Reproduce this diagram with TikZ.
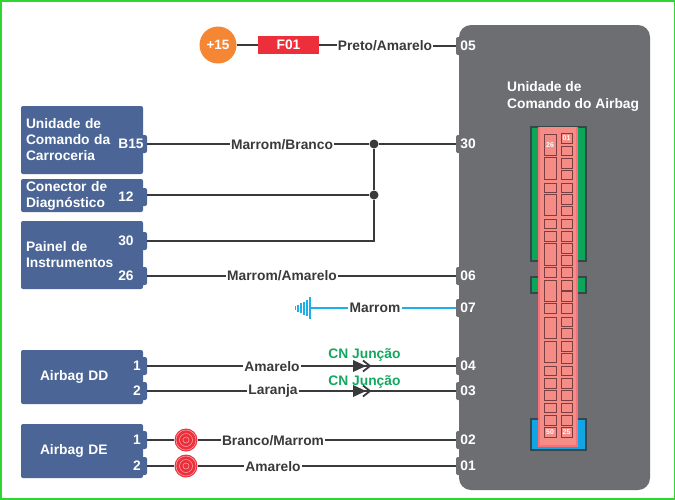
\documentclass[tikz,border=0pt]{standalone}
\usepackage{fontspec}
\setmainfont{Liberation Sans}
\usetikzlibrary{calc}
\definecolor{unitgray}{HTML}{6D6E71}
\definecolor{boxblue}{HTML}{4A6596}
\definecolor{wiredark}{HTML}{3A3A3C}
\definecolor{framegreen}{HTML}{2FD62F}
\definecolor{cngreen}{HTML}{12A860}
\definecolor{fusered}{HTML}{ED2F3B}
\definecolor{plusorange}{HTML}{F58634}
\definecolor{groundblue}{HTML}{1CB0E6}
\definecolor{plugred}{HTML}{F7707A}
\definecolor{cellpink}{HTML}{F58C86}
\definecolor{celldark}{HTML}{7A3F42}
\definecolor{bodygreen}{HTML}{0BA65A}
\definecolor{bodyblue}{HTML}{12A5E3}
\definecolor{bodyline}{HTML}{38454A}
\tikzstyle{txt}=[font=\fontsize{13.8}{16}\selectfont\bfseries]
\tikzstyle{box}=[rectangle,fill=boxblue,rounded corners=2pt,minimum width=122pt,text width=112pt,align=left,text=white,inner sep=0pt,anchor=center,txt]
\tikzstyle{bpin}=[rectangle,fill=boxblue,rounded corners=2pt,minimum height=18pt,inner sep=0pt,text=white,txt]
\tikzstyle{upin}=[rectangle,fill=unitgray,rounded corners=2pt,minimum width=24pt,minimum height=18pt,inner sep=0pt,text=white,txt]
\tikzstyle{wire}=[draw=wiredark,line width=1.6pt]
\tikzstyle{wlabel}=[txt,text=wiredark,inner sep=1pt]
\tikzstyle{cnlabel}=[txt,text=cngreen,inner sep=0pt]
\tikzstyle{jdot}=[circle,fill=wiredark,minimum size=9pt,inner sep=0pt]
\tikzstyle{coil}=[circle,fill=fusered,minimum size=23pt,inner sep=0pt]
\tikzstyle{cell}=[draw=celldark,fill=cellpink,line width=0.8pt]
\tikzstyle{cellnum}=[text=white,inner sep=0pt,font=\fontsize{7}{7}\selectfont\bfseries]
\newcommand{\drawcn}[2]
{
	\draw[wiredark,line width=2.4pt] (#1-12,#2) -- (#1+26,#2);
	\fill[wiredark] (#1-1,#2-6) -- (#1+12,#2) -- (#1-1,#2+6) -- cycle;
	\draw[wiredark,line width=1.8pt] (#1+9,#2-5.5) -- (#1+16,#2) -- (#1+9,#2+5.5);
}
\newcommand{\drawrings}[1]
{
	\foreach \ringr in {3,6.5,10}
		\draw[white!60!fusered,line width=0.5pt] (#1) circle (\ringr);
}
\begin{document}
\begin{tikzpicture}[x=1pt,y=-1pt]
	\useasboundingbox (0,0) rectangle (675,499);
	\fill[white] (0,0) rectangle (675,499);
	\draw[framegreen,line width=2pt] (0.5,0.5) rectangle (674.5,498.5);

	% unidade do airbag
	\fill[unitgray,rounded corners=12pt] (459,25) rectangle (650,490);
	\node[txt,text=white,align=left,anchor=west,inner sep=0pt] (title) at (507,96) {Unidade de\\[1pt]Comando do Airbag};
	\node[upin] (p05) at (468,46) {05};
	\node[upin] (p30) at (468,144) {30};
	\node[upin] (p06) at (468,276) {06};
	\node[upin] (p07) at (468,308) {07};
	\node[upin] (p04) at (468,366) {04};
	\node[upin] (p03) at (468,391) {03};
	\node[upin] (p02) at (468,440) {02};
	\node[upin] (p01) at (468,466) {01};

	% conector
	\draw[bodyline,line width=1.2pt,fill=bodygreen] (531,127) rectangle (586,261);
	\draw[bodyline,line width=1.2pt,fill=bodygreen] (531,277) rectangle (586,293);
	\draw[bodyline,line width=1.2pt,fill=bodyblue] (531,419) rectangle (586,450);
	\fill[plugred] (538,127) rectangle (578,447);
	\fill[cellpink] (540,127) rectangle (576,445);
	\foreach \ya/\yb in {134/155,157/179,183/192,194/215,219/228,231/241,243/265,267/277,280/301,303/313,317/338,341/362,366/375,378/388,390/400,403/412,415/425,427/437}
		\draw[cell] (544,\ya) rectangle (556,\yb);
	\foreach \ya/\yb in {133/143,146/155,158/168,170/179,183/192,194/204,206/215,219/228,231/241,243/253,255/265,267/277,280/290,291/301,303/313,317/326,328/338,341/351,353/363,366/375,378/388,390/400,403/412,415/425,427/437}
		\draw[cell] (561,\ya) rectangle (572,\yb);
	\node[cellnum] (n26) at (550,145) {26};
	\node[cellnum] (n01) at (566.5,138) {01};
	\node[cellnum] (n50) at (550,432) {50};
	\node[cellnum] (n25) at (566.5,432) {25};

	% caixas da esquerda
	\node[box,minimum height=68pt] (ucc) at (82,140) {Unidade de\\Comando da\\Carroceria};
	\node[box,minimum height=33pt] (diag) at (82,195.5) {Conector de\\Diagnóstico};
	\node[box,minimum height=68pt] (painel) at (82,255) {Painel de\\Instrumentos};
	\node[box,minimum height=54pt] (dd) at (82,377) {\hspace*{14pt}Airbag DD};
	\node[box,minimum height=54pt] (de) at (82,451) {\hspace*{14pt}Airbag DE};
	\node[bpin,minimum width=32pt] (b15) at (131,144) {B15};
	\node[bpin,minimum width=42pt] (d12) at (126,197) {12};
	\node[bpin,minimum width=42pt] (i30) at (126,241) {30};
	\node[bpin,minimum width=42pt] (i26) at (126,276) {26};
	\node[bpin,minimum width=20pt] (dd1) at (137,366) {1};
	\node[bpin,minimum width=20pt] (dd2) at (137,391) {2};
	\node[bpin,minimum width=20pt] (de1) at (137,440) {1};
	\node[bpin,minimum width=20pt] (de2) at (137,466) {2};

	% +15 e fusivel
	\node[circle,fill=plusorange,minimum size=37pt,inner sep=0pt,text=white,font=\fontsize{13.5}{13.5}\selectfont\bfseries] (plus) at (218,45) {+15};
	\node[rectangle,fill=fusered,minimum width=61pt,minimum height=18pt,inner sep=0pt,text=white,txt] (f01) at (288.5,45) {F01};
	\node[wlabel] (l05) at (385,46) {Preto/Amarelo};
	\draw[wire] (plus) -- (f01);
	\draw[wire] (f01.east) -- (l05.west |- f01.east);
	\draw[wire] (l05) -- (p05);

	% fios
	\node[wlabel] (l30) at (282,145) {Marrom/Branco};
	\node[jdot] (j1) at (374,144) {};
	\node[jdot] (j2) at (374,195) {};
	\coordinate (c30) at (374,241);
	\draw[wire] (b15) -- (l30.west |- b15);
	\draw[wire] (l30.east |- b15) -- (j1) -- (p30);
	\draw[wire] (d12.east |- j2) -- (j2);
	\draw[wire] (i30) -- (c30) -- (j2) -- (j1);
	\node[wlabel] (l06) at (282,276) {Marrom/Amarelo};
	\draw[wire] (i26) -- (l06) -- (p06);

	% massa
	\node[wlabel] (l07) at (375,308) {Marrom};
	\coordinate (gnd) at (310,308);
	\draw[groundblue,line width=1.6pt] (gnd) -- (l07);
	\draw[groundblue,line width=1.6pt] (l07) -- (p07);
	\draw[groundblue,line width=1.8pt] (gnd)+(0,-11) -- +(0,11);
	\foreach \gx/\gy in {3/8,6/6.5,9/5,12/3.5,14.5/2}
		\draw[groundblue,line width=1.8pt] ($(gnd)+(-\gx,-\gy)$) -- ($(gnd)+(-\gx,\gy)$);

	% airbag DD
	\node[wlabel] (l04) at (272,367) {Amarelo};
	\node[wlabel] (l03) at (273,391) {Laranja};
	\draw[wire] (dd1) -- (l04.west |- dd1);
	\draw[wire] (l04.east |- dd1) -- (p04);
	\draw[wire] (dd2) -- (l03) -- (p03);
	\drawcn{354}{366}
	\drawcn{354}{391}
	\node[cnlabel] (cn1) at (364.5,354.5) {CN Junção};
	\node[cnlabel] (cn2) at (364.5,381.5) {CN Junção};

	% airbag DE
	\node[coil] (coil1) at (186,440) {};
	\node[coil] (coil2) at (186,466) {};
	\node[wlabel] (l02) at (273,441) {Branco/Marrom};
	\node[wlabel] (l01) at (273,467) {Amarelo};
	\draw[wire] (de1) -- (coil1);
	\draw[wire] (coil1) -- (l02.west |- coil1);
	\draw[wire] (l02.east |- coil1) -- (p02);
	\draw[wire] (de2) -- (coil2);
	\draw[wire] (coil2) -- (l01.west |- coil2);
	\draw[wire] (l01.east |- coil2) -- (p01);
	\drawrings{coil1}
	\drawrings{coil2}
\end{tikzpicture}
\end{document}
